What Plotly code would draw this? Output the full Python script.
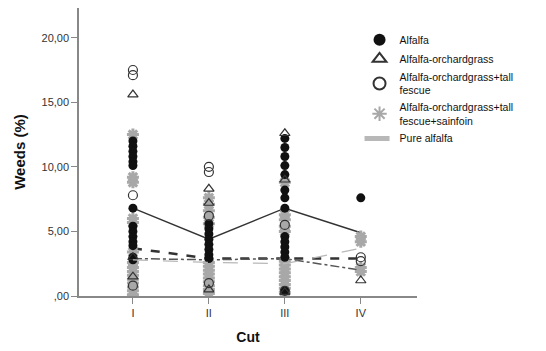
import plotly.graph_objects as go

cuts = ["I", "II", "III", "IV"]
ytick_vals = [0, 5, 10, 15, 20]
ytick_text = [",00", "5,00", "10,00", "15,00", "20,00"]

# Individual observations (Weeds %) per group and cut
alfalfa = {
    "I": [12.0, 11.6, 11.2, 10.8, 10.4, 10.1, 6.8, 5.4, 5.0, 4.6, 4.2, 3.9, 3.0, 2.8],
    "II": [5.6, 5.2, 4.8, 4.4, 4.0, 3.6, 3.2, 2.9],
    "III": [12.2, 11.5, 10.8, 10.1, 9.4, 8.2, 7.6, 6.8, 4.6, 4.2, 3.8, 3.4, 3.0, 0.4],
    "IV": [7.6],
}
alf_orch = {
    "I": [15.6, 3.0, 1.5],
    "II": [8.3, 7.2, 0.5],
    "III": [12.6, 9.0, 0.3],
    "IV": [1.2],
}
alf_orch_fes = {
    "I": [17.5, 17.1, 7.8, 0.8],
    "II": [10.0, 9.6, 6.2, 1.0],
    "III": [5.5, 0.4],
    "IV": [3.0, 2.7],
}
alf_orch_fes_sain = {
    "I": [12.5, 9.2, 8.8, 6.0, 5.7, 3.4, 2.6, 2.2, 1.9, 1.6, 1.3, 1.0, 0.7, 0.4, 0.1],
    "II": [7.6, 7.1, 6.6, 6.1, 5.6, 2.6, 2.3, 2.0, 1.7, 1.4, 1.1, 0.8, 0.5, 0.2],
    "III": [8.8, 6.3, 5.9, 5.4, 5.0, 2.7, 2.4, 2.1, 1.8, 1.5, 1.2, 0.9, 0.6, 0.3],
    "IV": [4.6, 4.2, 2.2, 1.9],
}

# Mean lines per group
mean_alfalfa = [6.8, 4.4, 6.8, 4.9]
mean_alf_orch = [3.7, 2.9, 2.9, 2.9]
mean_alf_orch_fes = [2.9, 2.8, 2.9, 2.0]
mean_pure = [2.8, 2.6, 2.5, 3.7]


def flatten(d):
    xs, ys = [], []
    for c in cuts:
        for v in d[c]:
            xs.append(c)
            ys.append(v)
    return xs, ys


fig = go.Figure()

# mean lines (drawn underneath markers)
fig.add_trace(go.Scatter(x=cuts, y=mean_alfalfa, mode="lines", showlegend=False,
                         line=dict(color="#333333", width=1.5)))
fig.add_trace(go.Scatter(x=cuts, y=mean_alf_orch, mode="lines", showlegend=False,
                         line=dict(color="#333333", width=2.5, dash="dash")))
fig.add_trace(go.Scatter(x=cuts, y=mean_alf_orch_fes, mode="lines", showlegend=False,
                         line=dict(color="#555555", width=1.5, dash="dashdot")))

groups = [
    ("Alfalfa", alfalfa, dict(symbol="circle", size=9, color="#111111"), 1),
    ("Alfalfa-orchardgrass", alf_orch,
     dict(symbol="triangle-up-open", size=9, color="#333333", line=dict(width=1.2)), 2),
    ("Alfalfa-orchardgrass+tall<br>fescue", alf_orch_fes,
     dict(symbol="circle-open", size=9, color="#333333", line=dict(width=1.2)), 3),
    ("Alfalfa-orchardgrass+tall<br>fescue+sainfoin", alf_orch_fes_sain,
     dict(symbol="asterisk-open", size=10, color="#a8a8a8", line=dict(width=3, color="#a8a8a8")), 4),
]
order = [3, 0, 1, 2]
for i in order:
    name, d, mk, rank = groups[i]
    xs, ys = flatten(d)
    fig.add_trace(go.Scatter(x=xs, y=ys, mode="markers", name=name, marker=mk, legendrank=rank))

fig.add_trace(go.Scatter(x=cuts, y=mean_pure, mode="lines", name="Pure alfalfa", legendrank=5,
                         line=dict(color="#b8b8b8", width=1.2, dash="longdash")))

fig.update_layout(
    width=546, height=351,
    margin=dict(l=79, r=129, t=8, b=49),
    paper_bgcolor="white", plot_bgcolor="white",
    font=dict(family="Liberation Sans, Arial, sans-serif", size=10, color="#222222"),
    legend=dict(x=0.83, y=0.94, xanchor="left", yanchor="top",
                font=dict(size=10.5, color="#111111"), tracegroupgap=0,
                itemwidth=30, itemsizing="constant", bgcolor="rgba(0,0,0,0)"),
    xaxis=dict(type="category", categoryorder="array", categoryarray=cuts,
               range=[-0.71, 3.74], showline=True, linecolor="#888888", linewidth=1.5,
               ticks="outside", ticklen=6, tickcolor="#888888", showgrid=False,
               zeroline=False, tickfont=dict(size=11, color="#333333"),
               title=dict(text="<b>Cut</b>", font=dict(size=14, color="#111111"), standoff=14)),
    yaxis=dict(range=[0, 22.3], tickvals=ytick_vals, ticktext=ytick_text,
               showline=True, linecolor="#888888", linewidth=1.5,
               ticks="outside", ticklen=6, tickcolor="#888888", showgrid=False,
               zeroline=False, tickfont=dict(size=11, color="#333333"),
               title=dict(text="<b>Weeds (%)</b>", font=dict(size=15, color="#111111"), standoff=12)),
)

fig.write_html("out.html")
